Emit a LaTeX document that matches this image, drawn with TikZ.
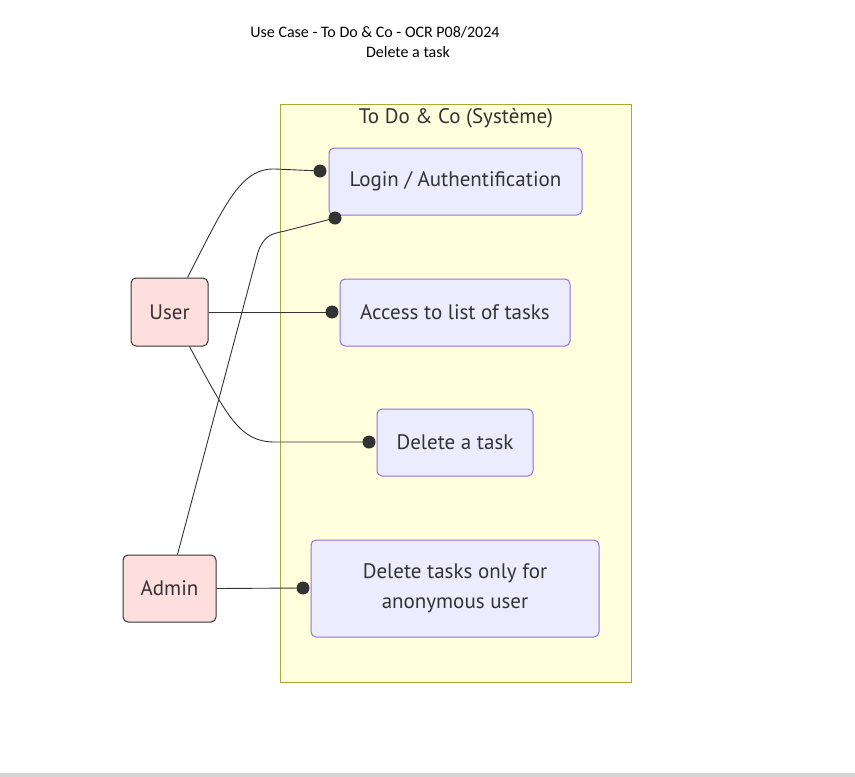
\documentclass[tikz,border=0pt]{standalone}
\usepackage{fontspec}
\setmainfont{PT Sans}
\newfontfamily\titlefont{Carlito}
\usetikzlibrary{positioning}

\definecolor{ink}{HTML}{333333}
\definecolor{sysfill}{HTML}{FFFFDE}
\definecolor{sysline}{HTML}{AAAA33}
\definecolor{casefill}{HTML}{ECECFF}
\definecolor{caseline}{HTML}{9370DB}
\definecolor{actorfill}{HTML}{FFDEDE}

\begin{document}
\begin{tikzpicture}[x=1pt, y=-1pt]
  \tikzstyle{usecase}=[rectangle, rounded corners = 5pt, fill = casefill, draw = caseline, line width = 1pt, text = ink, font = \fontsize{21}{30}\selectfont, align = center, inner sep = 0pt]
  \tikzstyle{actor}=[rectangle, rounded corners = 5pt, fill = actorfill, draw = ink, line width = 1pt, text = ink, font = \fontsize{21}{30}\selectfont, inner sep = 0pt]
  \tikzstyle{link}=[draw = ink, line width = 0.9pt]
  \tikzstyle{dot}=[circle, fill = ink, minimum size = 13pt, inner sep = 0pt]

  \useasboundingbox (0,0) rectangle (855,777);
  \fill[black!17] (0,773) rectangle (855,777);

  % title
  \node[font = \titlefont\fontsize{16}{19}\selectfont] (title) at (375,32) {Use Case - To Do \& Co - OCR P08/2024};
  \node[font = \titlefont\fontsize{16}{19}\selectfont] (subtitle) at (408,52) {Delete a task};

  % system boundary
  \draw[fill = sysfill, draw = sysline, line width = 1pt] (280,104) rectangle (631,682);
  \node[text = ink, font = \fontsize{21}{25}\selectfont] (system) at (456,118) {To Do \& Co (Système)};

  % use cases
  \node[usecase, minimum width = 253pt, minimum height = 67pt] (login) at (455.5,181.5) {Login / Authentification};
  \node[usecase, minimum width = 230pt, minimum height = 67pt] (list) at (455,312.5) {Access to list of tasks};
  \node[usecase, minimum width = 156pt, minimum height = 67pt] (delete) at (455,442.5) {Delete a task};
  \node[usecase, minimum width = 288pt, minimum height = 97pt] (anon) at (455,588.5) {Delete tasks only for\\anonymous user};

  % actors
  \node[actor, minimum width = 77pt, minimum height = 68pt] (user) at (169.5,312) {User};
  \node[actor, minimum width = 93pt, minimum height = 67pt] (admin) at (169.5,588.5) {Admin};

  % end points
  \node[dot] (d1) at (320,171) {};
  \node[dot] (d2) at (335,218) {};
  \node[dot] (d3) at (332,312) {};
  \node[dot] (d4) at (369,442) {};
  \node[dot] (d5) at (303,588) {};

  \draw[link] ([xshift = 18pt]user.north) .. controls (225,205) and (240,168) .. (275,169) -- (d1.center);
  \draw[link] ([xshift = 8pt]admin.north) -- (258,252) .. controls (264,236) and (270,234) .. (285,231) -- (d2.center);
  \draw[link] (user.east) -- (d3.center);
  \draw[link] ([xshift = 20pt]user.south) .. controls (228,418) and (240,442) .. (275,442) -- (d4.center);
  \draw[link] (admin.east) -- (d5.center);

\end{tikzpicture}
\end{document}
